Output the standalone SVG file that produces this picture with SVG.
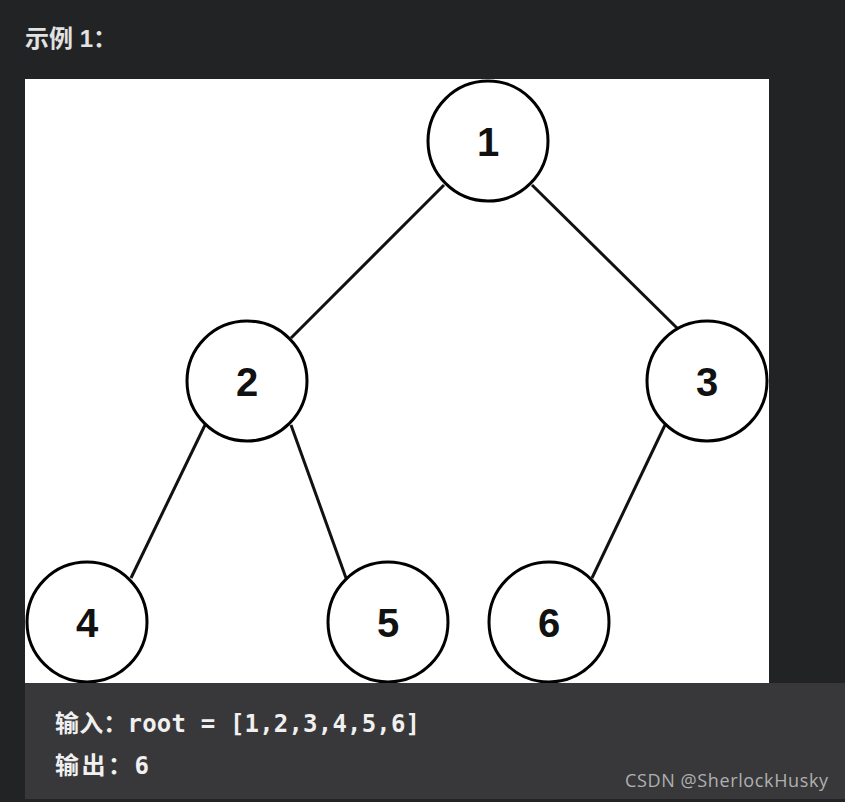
<svg xmlns="http://www.w3.org/2000/svg" width="845" height="802" viewBox="0 0 845 802">
<style>
.node circle{fill:#fff;stroke:#000;stroke-width:3}
.node text{font-family:"Liberation Sans",Arial,sans-serif;font-weight:bold;font-size:40px;fill:#111;text-anchor:middle}
.edge{stroke:#111;stroke-width:3;fill:none}
.code{font-family:"DejaVu Sans Mono","Noto Sans CJK SC",monospace;font-size:24px;fill:#f0f0f0;font-weight:bold}
</style>
<defs><clipPath id="img"><rect x="25" y="79" width="744" height="604"/></clipPath></defs>
<rect width="845" height="802" fill="#222325"/>
<text x="25" y="47" font-family="'Liberation Sans','Noto Sans CJK SC',sans-serif" font-weight="bold" font-size="24" fill="#e2e2e2">示例 1：</text>
<rect x="25" y="79" width="744" height="604" fill="#fff"/>
<g clip-path="url(#img)">
<g id="connectors">
<line class="edge" x1="444" y1="185" x2="291" y2="338"/>
<line class="edge" x1="532" y1="185" x2="677" y2="328"/>
<line class="edge" x1="205" y1="425" x2="131" y2="578"/>
<line class="edge" x1="291" y1="425" x2="346" y2="578"/>
<line class="edge" x1="665" y1="425" x2="592" y2="578"/>
</g>
<g id="n1" class="node"><circle cx="488" cy="141" r="60"/><text x="488" y="156">1</text></g>
<g id="n2" class="node"><circle cx="247" cy="381" r="60"/><text x="247" y="396">2</text></g>
<g id="n3" class="node"><circle cx="707" cy="381" r="60"/><text x="707" y="396">3</text></g>
<g id="n4" class="node"><circle cx="87" cy="622" r="60"/><text x="87" y="637">4</text></g>
<g id="n5" class="node"><circle cx="388" cy="622" r="60"/><text x="388" y="637">5</text></g>
<g id="n6" class="node"><circle cx="549" cy="622" r="60"/><text x="549" y="637">6</text></g>
</g>
<rect x="25" y="683" width="820" height="116" fill="#38383a"/>
<text class="code" x="55" y="732" textLength="365">输入：root = [1,2,3,4,5,6]</text>
<text class="code" x="55" y="774" textLength="94">输出：6</text>
<text x="625" y="787" font-family="'Open Sans','Noto Sans',sans-serif" font-size="18" fill="#b0b0b0" textLength="203">CSDN @SherlockHusky</text>
</svg>
